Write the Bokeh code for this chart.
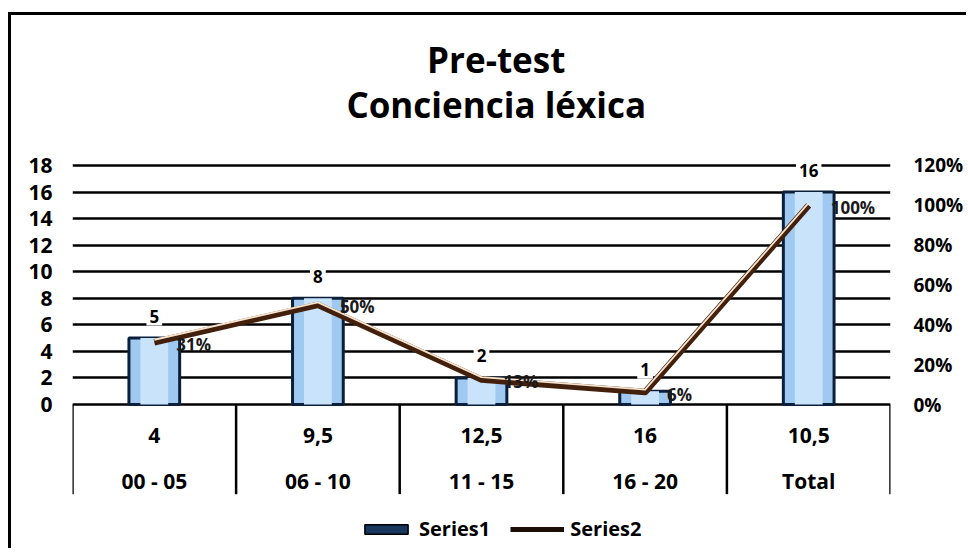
import numpy as np
from bokeh.plotting import figure
from bokeh.models import (Range1d, LinearAxis, FixedTicker, NumeralTickFormatter,
                          ColumnDataSource, Legend, LegendItem)
from bokeh.core.properties import value
from bokeh.embed import file_html
from bokeh.resources import INLINE

# ---------------- data ----------------
title_lines = ["Pre-test", "Conciencia léxica"]
categories = ["00 - 05", "06 - 10", "11 - 15", "16 - 20", "Total"]
row_values = ["4", "9,5", "12,5", "16", "10,5"]
series1 = [5, 8, 2, 1, 16]
series2 = [0.3125, 0.50, 0.125, 0.0625, 1.00]
series2_labels = ["31%", "50%", "13%", "6%", "100%"]
left_ticks = [0, 2, 4, 6, 8, 10, 12, 14, 16, 18]
right_ticks = [0.0, 0.2, 0.4, 0.6, 0.8, 1.0, 1.2]

# ---------------- layout constants ----------------
FONT = "Open Sans"
PX_PER_UNIT = 13.28
Y_TOP = 389 / PX_PER_UNIT
Y_BOTTOM = -144 / PX_PER_UNIT
SCALE = 18 / 1.2          # left-axis units per 100 %
HILITE = 2.5 / (PX_PER_UNIT * SCALE)   # ~2.5 px shift for the highlight stroke
TABLE_DEPTH = -6.75
ROW1_Y = -2.37
ROW2_Y = -5.76
TITLE_X = 2.59
TITLE_Y = [25.95, 22.6]

n = len(categories)
xc = np.arange(n) + 0.5
bounds = np.arange(n + 1)

p = figure(frame_width=818, frame_height=533, output_backend="svg", toolbar_location=None,
           x_range=Range1d(0, n), y_range=Range1d(Y_BOTTOM, Y_TOP),
           x_axis_location=None,
           min_border_left=61, min_border_right=70, min_border_top=0, min_border_bottom=0,
           outline_line_color=None, background_fill_color="white",
           border_fill_color="white")
p.styles = {"border-top": "3px solid black", "border-left": "3px solid black",
            "margin-top": "12px", "margin-left": "8px"}

p.extra_y_ranges = {"pct": Range1d(Y_BOTTOM / SCALE, Y_TOP / SCALE),
                    "pct_hi": Range1d(Y_BOTTOM / SCALE - HILITE, Y_TOP / SCALE - HILITE)}

# axes
yax = p.yaxis[0]
yax.ticker = FixedTicker(ticks=left_ticks)
right = LinearAxis(y_range_name="pct", ticker=FixedTicker(ticks=right_ticks),
                   formatter=NumeralTickFormatter(format="0%"))
p.add_layout(right, "right")
for ax, st, fs in ((yax, 20, "21px"), (right, 23, "19px")):
    ax.axis_line_color = None
    ax.major_tick_line_color = None
    ax.minor_tick_line_color = None
    ax.major_tick_out = 0
    ax.major_label_standoff = st
    ax.major_label_text_font = FONT
    ax.major_label_text_font_style = "bold"
    ax.major_label_text_font_size = fs
    ax.major_label_text_color = "black"

p.xgrid.visible = False
p.ygrid.ticker = FixedTicker(ticks=left_ticks)
p.ygrid.grid_line_color = "black"
p.ygrid.grid_line_width = 2.5

# table vertical separators
p.segment(x0=bounds, y0=[0] * (n + 1), x1=bounds, y1=[TABLE_DEPTH] * (n + 1),
          line_color="black", line_width=2.5)

# bars
src = ColumnDataSource(dict(x=xc, top=series1, pct=series2, ypct=np.array(series2) * SCALE,
                            lab1=[str(v) for v in series1], lab2=series2_labels,
                            row=row_values, cat=categories))
p.vbar(x="x", top="top", bottom=0, width=0.31, source=src,
       fill_color="#9fc9f1", line_color="#0b1f3a", line_width=3)
p.vbar(x="x", top="top", bottom=0, width=0.17, source=src,
       fill_color="#c9e3fa", line_color=None)

# line (secondary axis)
p.line(x="x", y="pct", y_range_name="pct", source=src, line_color="#43200c",
       line_width=6.5, line_join="round")
p.line(x="x", y="pct", y_range_name="pct_hi", source=src, line_color="#f6e2cc",
       line_width=1.8, line_join="round")

# data labels
p.text(x="x", y="top", text="lab1", source=src, text_align="center",
       text_baseline="middle", y_offset=-22, text_font=value(FONT),
       text_font_style="bold", text_font_size="17px", text_color="black",
       background_fill_color="white", padding=3)
p.text(x="x", y="ypct", text="lab2", source=src, text_align="left",
       text_baseline="middle", x_offset=22, y_offset=2, text_font=value(FONT),
       text_font_style="bold", text_font_size="17px", text_color="#1a1a1a")

# table rows
for yy, col in ((ROW1_Y, "row"), (ROW2_Y, "cat")):
    p.text(x="x", y=yy, text=col, source=src, text_align="center",
           text_baseline="middle", text_font=value(FONT), text_font_style="bold",
           text_font_size="21px", text_color="black")

# title
p.text(x=[TITLE_X, TITLE_X], y=TITLE_Y, text=title_lines, text_align="center",
       text_baseline="middle", text_font=value(FONT), text_font_style="bold",
       text_font_size="35px", text_color="black")

# legend (swatch-only renderers, hidden in the plot)
r1 = p.vbar(x="x", top="top", width=0.3, source=src, fill_color="#17375e",
            line_color="black", line_width=1.5, visible=False)
r2 = p.line(x="x", y="pct", y_range_name="pct", source=src, line_color="#1a0d05",
            line_width=5, visible=False)
legend = Legend(items=[LegendItem(label="Series1", renderers=[r1]),
                       LegendItem(label="Series2", renderers=[r2])],
                location=(287, 6), orientation="horizontal",
                border_line_color=None, background_fill_alpha=0,
                inactive_fill_alpha=0,
                label_text_font=FONT, label_text_font_style="bold",
                label_text_font_size="20px", label_text_color="black",
                glyph_width=54, glyph_height=12,
                label_standoff=6, spacing=20, padding=0, margin=0)
p.add_layout(legend)

open("out.html", "w").write(file_html(p, INLINE))
